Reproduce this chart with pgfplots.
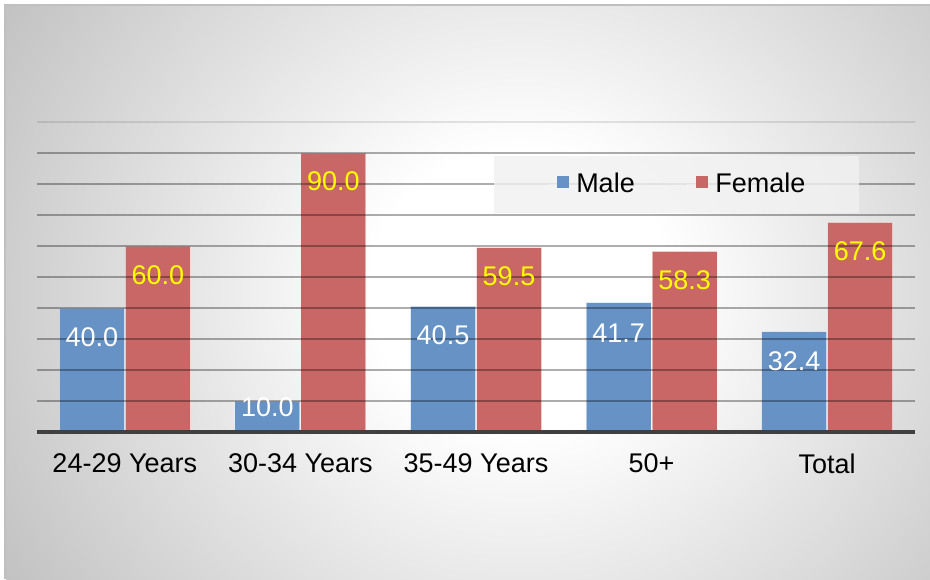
\documentclass[border=0pt]{standalone}
\usepackage{fontspec}
\setmainfont{Liberation Sans}
\usepackage{pgfplots}
\pgfplotsset{compat=1.18}
\usepackage{pgfplotstable}

\definecolor{maleblue}{HTML}{6792C6}
\definecolor{femalered}{HTML}{C86765}
\definecolor{axisdark}{HTML}{404040}
\definecolor{frameline}{HTML}{C0C0C0}
\definecolor{legendbg}{HTML}{F1F1F1}
\definecolor{labelyellow}{HTML}{FFFF00}
\definecolor{bgA}{HTML}{E8E8E8}
\definecolor{bgB}{HTML}{D3D3D3}
\definecolor{bgC}{HTML}{C6C6C6}
\definecolor{bgD}{HTML}{C2C2C2}

% soft radial background of the chart area (path box maps to +-25bp)
\pgfdeclareradialshading{chartbg}{\pgfpoint{0bp}{0bp}}{%
  color(0bp)=(white); color(6.25bp)=(white); color(13.25bp)=(bgA);
  color(19.75bp)=(bgB); color(23.75bp)=(bgC); color(25bp)=(bgD); color(50bp)=(bgD)}

% share by age group; mdy/fdy: vertical offset of the value labels (pt)
\pgfplotstableread{
idx male mdy   female fdy
0   40.0 -14.5 60.0   -14.5
1   10.0 -3.0  90.0   -14.0
2   40.5 -14.5 59.5   -14.5
3   41.7 -15.0 58.3   -14.5
4   32.4 -15.0 67.6   -14.5
}\agedata

\begin{document}
\begin{tikzpicture}
\path[use as bounding box] (0,0) rectangle (465pt,289.5pt);
\fill[white] (0,0) rectangle (465pt,289.5pt);
\begin{scope}
  \clip (2.5pt,0pt) rectangle (465pt,287pt);
  \shade[shading=chartbg] (260pt,144.5pt) ellipse [x radius=300pt, y radius=280pt];
\end{scope}
\draw[frameline, line width=0.75pt] (2.5pt,0pt) -- (2.5pt,287pt) -- (465pt,287pt);

\begin{axis}[
  at={(18.5pt,73.5pt)}, anchor=south west,
  scale only axis, width=439pt, height=155pt,
  xmin=-0.5, xmax=4.5, ymin=0, ymax=100,
  ybar=0.5pt, bar width=32.5pt,
  axis line style={draw=none},
  xtick={0,1,2,3,4},
  xticklabels={24-29 Years,30-34 Years,35-49 Years,50+,Total},
  ytick={10,20,...,90}, yticklabels={},
  extra y ticks={100}, extra y tick labels={},
  extra y tick style={grid style={black, opacity=0.1, line width=0.75pt}},
  ymajorgrids,
  grid style={black, opacity=0.32, line width=0.75pt},
  major tick length=0pt, tick style={draw=none},
  axis on top, clip=false,
  font=\fontsize{13.5}{16}\selectfont,
  xticklabel style={yshift=-7.2pt, text=black},
  /pgf/number format/assume math mode=true,
  nodes near coords={\pgfmathprintnumber[fixed,fixed zerofill,precision=1]{\pgfplotspointmeta}},
  every node near coord/.append style={anchor=center, font=\fontsize{13.5}{16}\selectfont},
  legend columns=2,
  legend style={at={(0.7284,0.798)}, anchor=center,
    fill=legendbg, fill opacity=0.8, text opacity=1, draw=none,
    inner xsep=26.75pt, inner ysep=8.5pt,
    nodes={inner sep=0pt},
    /tikz/every odd column/.style={column sep=3.5pt},
    /tikz/every even column/.style={column sep=26pt},
    font=\fontsize{13.5}{16}\selectfont},
  legend image code/.code={%
    \path (-4.5pt,0pt) -- (0pt,0pt);
    \path[#1, draw=none, fill opacity=1] (0pt,-1.7pt) rectangle (6pt,4.3pt);},
]
\addplot[fill=maleblue, draw=white, draw opacity=0.5, line width=0.5pt,
  visualization depends on={\thisrow{mdy} \as \labdy},
  nodes near coords style={text=white, yshift=\labdy pt}]
  table[x=idx, y=male]{\agedata};
\addplot[fill=femalered, draw=white, draw opacity=0.5, line width=0.5pt,
  visualization depends on={\thisrow{fdy} \as \labdy},
  nodes near coords style={text=labelyellow, yshift=\labdy pt}]
  table[x=idx, y=female]{\agedata};
\legend{Male,Female}
\draw[axisdark, line width=2pt] (axis cs:-0.5,0) -- (axis cs:4.5,0);
\end{axis}
\end{tikzpicture}
\end{document}
